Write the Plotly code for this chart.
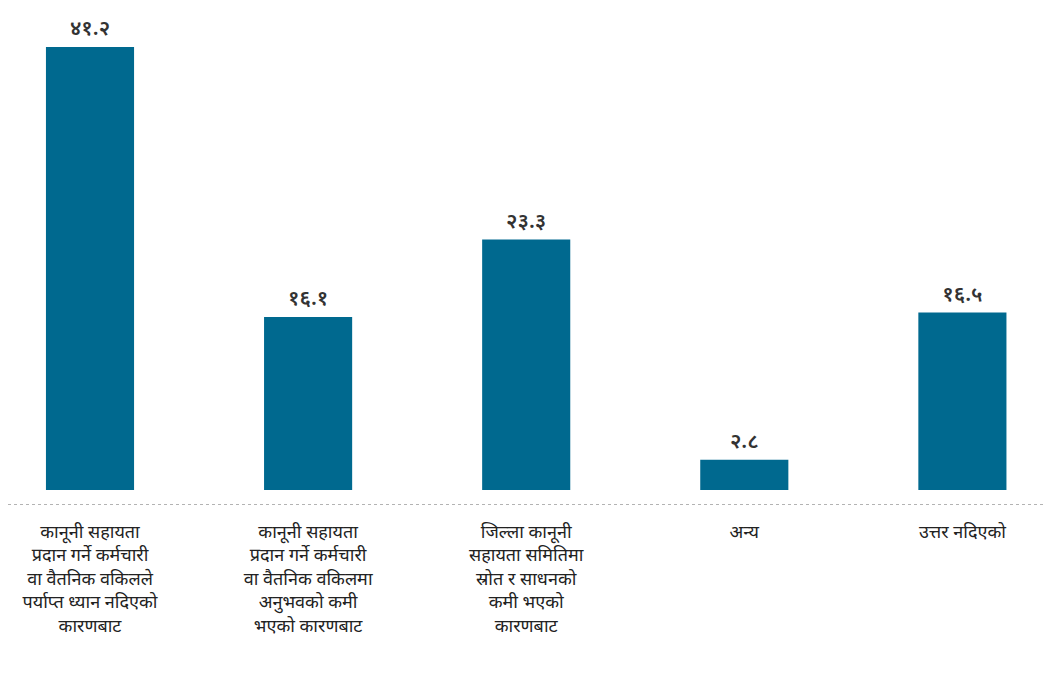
import plotly.graph_objects as go

categories = [
    "कानूनी सहायता<br>प्रदान गर्ने कर्मचारी<br>वा वैतनिक वकिलले<br>पर्याप्त ध्यान नदिएको<br>कारणबाट",
    "कानूनी सहायता<br>प्रदान गर्ने कर्मचारी<br>वा वैतनिक वकिलमा<br>अनुभवको कमी<br>भएको कारणबाट",
    "जिल्ला कानूनी<br>सहायता समितिमा<br>स्रोत र साधनको<br>कमी भएको<br>कारणबाट",
    "अन्य",
    "उत्तर नदिएको",
]
values = [41.2, 16.1, 23.3, 2.8, 16.5]
value_labels = ["४१.२", "१६.१", "२३.३", "२.८", "१६.५"]

FONT = "Noto Sans Devanagari, Lohit Devanagari, Noto Sans, sans-serif"

fig = go.Figure(
    go.Bar(
        x=categories,
        y=values,
        text=value_labels,
        textposition="outside",
        textfont=dict(size=21, color="#333333", family=FONT, weight=600),
        marker=dict(color="#00698f", line=dict(width=0)),
        cliponaxis=False,
        width=0.404,
    )
)

fig.update_layout(
    width=1046,
    height=669,
    margin=dict(l=0, r=0, t=2, b=172, autoexpand=False),
    paper_bgcolor="white",
    plot_bgcolor="white",
    showlegend=False,
    font=dict(family=FONT, color="#222222"),
    xaxis=dict(
        range=[-0.376, 4.42],
        showgrid=False,
        zeroline=False,
        showline=False,
        tickfont=dict(size=18, color="#222222", family=FONT),
        ticks="",
        ticklabelstandoff=14,
        automargin=False,
    ),
    yaxis=dict(
        range=[-1.4, 44.65],
        visible=False,
        showgrid=False,
        zeroline=False,
    ),
    shapes=[
        dict(
            type="line",
            xref="paper",
            yref="y",
            x0=0,
            x1=1,
            y0=-1.4,
            y1=-1.4,
            line=dict(color="#666666", width=1, dash="dot"),
        )
    ],
)

fig.write_html("out.html")
